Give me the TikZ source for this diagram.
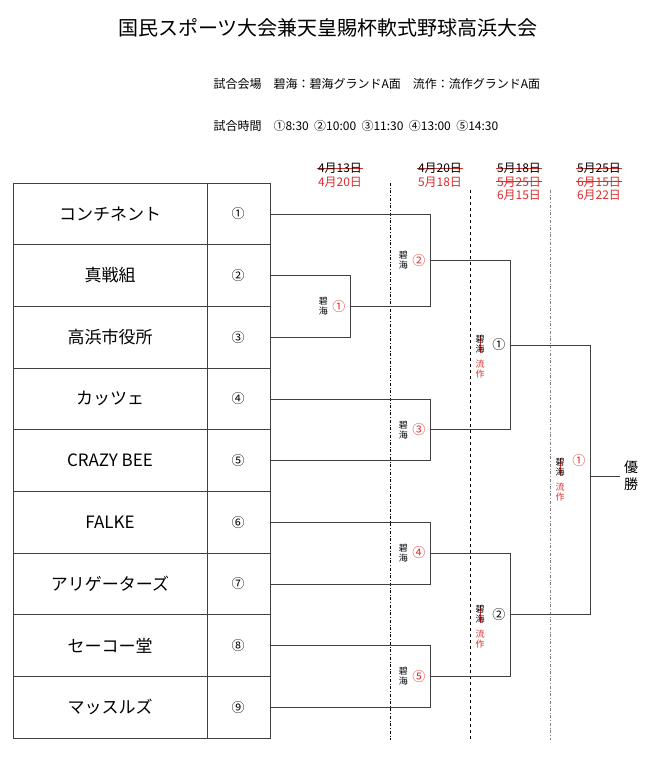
\documentclass[tikz,border=0pt]{standalone}
\usepackage{fontspec}
\setmainfont{Noto Sans CJK JP}
\usetikzlibrary{positioning}
\definecolor{redtxt}{RGB}{220,45,45}
\tikzset{
  team/.style={font=\fontsize{17}{17}\selectfont},
  num/.style={font=\fontsize{13}{13}\selectfont},
  small/.style={font=\fontsize{9}{10}\selectfont,inner sep=0pt,align=center},
  date/.style={font=\fontsize{12}{12}\selectfont,text=redtxt,inner sep=1pt},
  struckh/.style={path picture={\draw[redtxt,thick] (path picture bounding box.west) -- (path picture bounding box.east);}},
  struckv/.style={path picture={\draw[redtxt,thick] (path picture bounding box.north) -- (path picture bounding box.south);}},
  line/.style={draw=black!75,line width=0.6pt}
}
\begin{document}
\begin{tikzpicture}[x=1pt,y=-1pt]
        \useasboundingbox (0,0) rectangle (650,760);

        % title and info
        \node[font=\fontsize{20}{20}\selectfont] (title) at (328,28) {国民スポーツ大会兼天皇賜杯軟式野球高浜大会};
        \node[anchor=west,font=\fontsize{12}{12}\selectfont] (place) at (210,84) {試合会場\quad 碧海：碧海グランドA面\quad 流作：流作グランドA面};
        \node[anchor=west,font=\fontsize{12}{12}\selectfont] (time) at (210,126) {試合時間\quad ①8:30\ \ ②10:00\ \ ③11:30\ \ ④13:00\ \ ⑤14:30};

        % dates
        \node[date,text=black,struckh] (d1a) at (340,168) {4月13日};
        \node[date,below=1pt of d1a] (d1b) {4月20日};
        \node[date,text=black,struckh] (d2a) at (440,168) {4月20日};
        \node[date,below=1pt of d2a] (d2b) {5月18日};
        \node[date,text=black,struckh] (d3a) at (519,168) {5月18日};
        \node[date,struckh,below=1pt of d3a] (d3b) {5月25日};
        \node[date,below=1pt of d3b] (d3c) {6月15日};
        \node[date,text=black,struckh] (d4a) at (599,168) {5月25日};
        \node[date,struckh,below=1pt of d4a] (d4b) {6月15日};
        \node[date,below=1pt of d4b] (d4c) {6月22日};

        % round separators
        \draw[dash dot,thin] (390,183) -- (390,740);
        \draw[dashed,thin] (470,190) -- (470,740);
        \draw[dash dot,thin,gray] (550,190) -- (550,740);

        % table
        \draw[line] (13,183) rectangle (270,738);
        \draw[line] (207,183) -- (207,738);
        \foreach \i/\name in {1/コンチネント,2/真戦組,3/高浜市役所,4/カッツェ,5/CRAZY BEE,6/FALKE,7/アリゲーターズ,8/セーコー堂,9/マッスルズ} {
            \pgfmathsetmacro{\yc}{183+61.67*(\i-0.5)}
            \node[team] (t\i) at (110,\yc) {\name};
            \node[num] (n\i) at (238,\yc) {\ifcase\i\or ①\or ②\or ③\or ④\or ⑤\or ⑥\or ⑦\or ⑧\or ⑨\fi};
            \coordinate (e\i) at (270,\yc);
            \ifnum\i<9 \draw[line] (13,{183+61.67*\i}) -- (270,{183+61.67*\i}); \fi
        }

        % first round
        \draw[line] (e2) -- ++(80,0) |- (e3) coordinate[pos=0.25] (g1);
        \node[num,text=redtxt,left=1pt of g1] (r1) {①};
        \node[small,left=22pt of g1] (v1) {碧\\海};

        % second round
        \draw[line] (e1) -- ++(160,0) |- (g1) coordinate[pos=0.25] (g2);
        \draw[line] (e4) -- ++(160,0) |- (e5) coordinate[pos=0.25] (g3);
        \draw[line] (e6) -- ++(160,0) |- (e7) coordinate[pos=0.25] (g4);
        \draw[line] (e8) -- ++(160,0) |- (e9) coordinate[pos=0.25] (g5);
        \foreach \g/\k in {g2/②,g3/③,g4/④,g5/⑤} {
            \node[num,text=redtxt,left=1pt of \g] (r\g) {\k};
            \node[small,left=22pt of \g] (v\g) {碧\\海};
        }

        % semi finals
        \draw[line] (g2) -- ++(80,0) |- (g3) coordinate[pos=0.25] (s1);
        \draw[line] (g4) -- ++(80,0) |- (g5) coordinate[pos=0.25] (s2);
        \node[num,left=1pt of s1] (rs1) {①};
        \node[num,left=1pt of s2] (rs2) {②};
        \node[small,struckv,anchor=north] (vs1) at ([xshift=-30pt,yshift=10pt]s1) {碧\\海};
        \node[small,text=redtxt,below=6pt of vs1] (ws1) {流\\作};
        \node[small,struckv,anchor=north] (vs2) at ([xshift=-30pt,yshift=10pt]s2) {碧\\海};
        \node[small,text=redtxt,below=6pt of vs2] (ws2) {流\\作};

        % final
        \draw[line] (s1) -- ++(80,0) |- (s2) coordinate[pos=0.25] (f);
        \node[num,text=redtxt,left=1pt of f,yshift=19pt] (rf) {①};
        \node[small,struckv,anchor=north] (vf) at ([xshift=-30pt,yshift=22pt]f) {碧\\海};
        \node[small,text=redtxt,below=6pt of vf] (wf) {流\\作};
        \node[font=\fontsize{14}{17}\selectfont,align=center] (win) at (631,476) {優\\勝};
        \draw[line] (f |- win.west) -- (win.west);
\end{tikzpicture}
\end{document}
